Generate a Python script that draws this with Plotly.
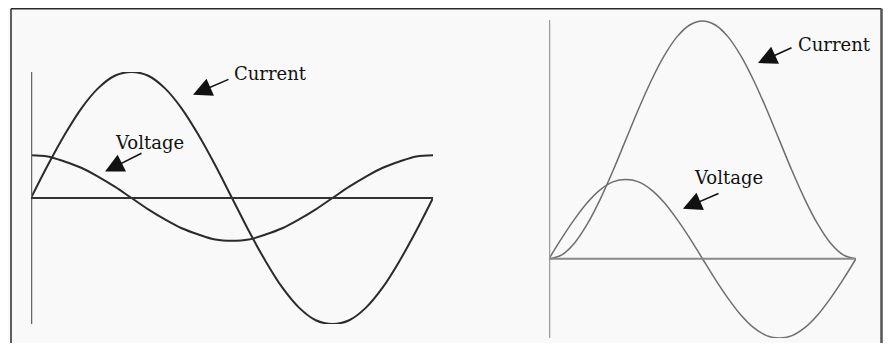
import plotly.graph_objects as go

# phase angle in degrees, sampled every 15 degrees
angle = [0, 15, 30, 45, 60, 75, 90, 105, 120, 135, 150, 165, 180,
         195, 210, 225, 240, 255, 270, 285, 300, 315, 330, 345, 360]

# left panel: current lags voltage by 90 degrees
left_current = [0, 0.26, 0.5, 0.71, 0.87, 0.97, 1.0, 0.97, 0.87, 0.71, 0.5, 0.26, 0,
                -0.26, -0.5, -0.71, -0.87, -0.97, -1.0, -0.97, -0.87, -0.71, -0.5, -0.26, 0]
left_voltage = [0.34, 0.33, 0.29, 0.24, 0.17, 0.09, 0, -0.09, -0.17, -0.24, -0.29, -0.33, -0.34,
                -0.33, -0.29, -0.24, -0.17, -0.09, 0, 0.09, 0.17, 0.24, 0.29, 0.33, 0.34]

# right panel: switched on at zero voltage, current gets a dc offset
right_voltage = [0, 0.26, 0.5, 0.71, 0.87, 0.97, 1.0, 0.97, 0.87, 0.71, 0.5, 0.26, 0,
                 -0.26, -0.5, -0.71, -0.87, -0.97, -1.0, -0.97, -0.87, -0.71, -0.5, -0.26, 0]
right_current = [0, 0.05, 0.2, 0.44, 0.75, 1.11, 1.5, 1.89, 2.25, 2.56, 2.8, 2.95, 3.0,
                 2.95, 2.8, 2.56, 2.25, 1.89, 1.5, 1.11, 0.75, 0.44, 0.2, 0.05, 0]

OFF = 8  # page body margin shifts the figure
W, H = 891 - 2 * OFF, 351 - 2 * OFF
FONT = "DejaVu Serif"


def px_x(p):
    return (p - OFF) / W


def px_y(p):
    return 1 - (p - OFF) / H


fig = go.Figure()

dark = "#2b2b2b"
light = "#6e6e6e"

fig.add_trace(go.Scatter(x=angle, y=left_current, xaxis="x", yaxis="y", mode="lines",
                         line=dict(color=dark, width=2, shape="spline")))
fig.add_trace(go.Scatter(x=angle, y=left_voltage, xaxis="x", yaxis="y", mode="lines",
                         line=dict(color=dark, width=2, shape="spline")))
fig.add_trace(go.Scatter(x=angle, y=right_current, xaxis="x2", yaxis="y2", mode="lines",
                         line=dict(color=light, width=1.5, shape="spline")))
fig.add_trace(go.Scatter(x=angle, y=right_voltage, xaxis="x2", yaxis="y2", mode="lines",
                         line=dict(color=light, width=1.5, shape="spline")))

hidden = dict(visible=False, fixedrange=True)
fig.update_layout(
    width=W,
    height=H,
    margin=dict(l=0, r=0, t=0, b=0),
    paper_bgcolor="#f9f9f9",
    plot_bgcolor="rgba(0,0,0,0)",
    showlegend=False,
    xaxis=dict(domain=[px_x(31), px_x(433)], range=[0, 360], anchor="y", **hidden),
    yaxis=dict(domain=[px_y(324), px_y(72)], range=[-1, 1], anchor="x", **hidden),
    xaxis2=dict(domain=[px_x(549), px_x(856)], range=[0, 360], anchor="y2", **hidden),
    yaxis2=dict(domain=[px_y(338), px_y(20)], range=[-1, 3.013], anchor="x2", **hidden),
)

# axes drawn as lines in data space
fig.add_shape(type="line", xref="x", yref="y", x0=0, x1=0, y0=-1.0, y1=1.01,
              line=dict(color="#666666", width=2.5))
fig.add_shape(type="line", xref="x", yref="y", x0=0, x1=360, y0=0, y1=0,
              line=dict(color="#333333", width=2))
fig.add_shape(type="line", xref="x2", yref="y2", x0=0, x1=0, y0=-1.0, y1=3.013,
              line=dict(color="#a39c9c", width=2.5))
fig.add_shape(type="line", xref="x2", yref="y2", x0=0, x1=360, y0=0, y1=0,
              line=dict(color="#8a8a8a", width=2))

# frame around the picture
fig.add_shape(type="line", xref="paper", yref="paper",
              x0=px_x(11), x1=px_x(11), y0=0, y1=px_y(8.8),
              line=dict(color="#2a2a2a", width=1.5))
fig.add_shape(type="line", xref="paper", yref="paper",
              x0=px_x(11), x1=px_x(881.5), y0=px_y(8.8), y1=px_y(8.8),
              line=dict(color="#2a2a2a", width=1.5))
fig.add_shape(type="line", xref="paper", yref="paper",
              x0=px_x(881.5), x1=px_x(881.5), y0=0, y1=px_y(8.8),
              line=dict(color="#555555", width=2.5))

labels = [
    # text, xref, yref, x, y, xanchor
    ("Current", "x", "y", 180, 0.99, "left"),
    ("Voltage", "x", "y", 105.7, 0.44, "center"),
    ("Current", "x2", "y2", 289.6, 2.71, "left"),
    ("Voltage", "x2", "y2", 209.9, 1.03, "center"),
]
for text, xr, yr, x, y, xa in labels:
    fig.add_annotation(text=text, xref=xr, yref=yr, x=x, y=y, xanchor=xa, yanchor="middle",
                       showarrow=False, font=dict(family=FONT, size=18, color="#111111"))

arrows = [
    # xref, yref, tip x, tip y, tail offset
    ("x", "y", 145.1, 0.82, 37, -16),
    ("x", "y", 66.3, 0.21, 38, -19),
    ("x2", "y2", 245.1, 2.47, 35, -16),
    ("x2", "y2", 157.1, 0.63, 37, -16),
]
for xr, yr, x, y, ax, ay in arrows:
    fig.add_annotation(text="", xref=xr, yref=yr, x=x, y=y, ax=ax, ay=ay,
                       showarrow=True, arrowhead=2, arrowsize=2.5, arrowwidth=1.5,
                       arrowcolor="#111111")

fig.write_html("out.html")
